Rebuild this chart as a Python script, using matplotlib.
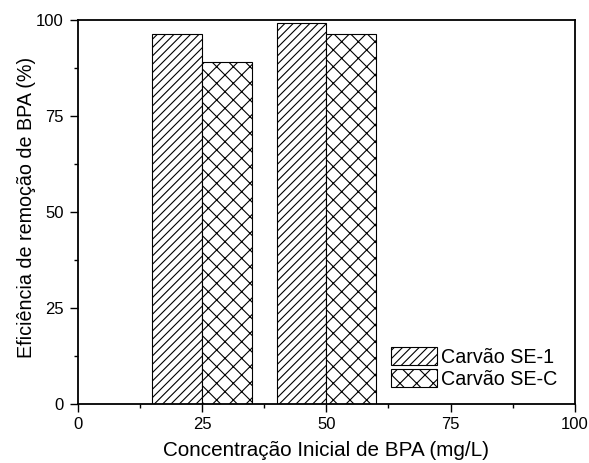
import matplotlib
matplotlib.use("Agg")
import matplotlib.pyplot as plt
from matplotlib.ticker import MultipleLocator

plt.rcParams['font.family'] = ['Liberation Sans', 'DejaVu Sans']
plt.rcParams['hatch.linewidth'] = 0.8

concentrations = [25, 50]
series_names = ["Carvão SE-1", "Carvão SE-C"]
se1_values = [96.4, 99.2]
sec_values = [89.0, 96.3]
bar_width = 10

fig = plt.figure(figsize=(5.89, 4.63), dpi=100)
ax = fig.add_axes([0.132, 0.127, 0.844, 0.830])

ax.bar([c - bar_width / 2 for c in concentrations], se1_values, width=bar_width,
       facecolor='white', edgecolor='black', hatch='////', linewidth=0.8,
       label=series_names[0])
ax.bar([c + bar_width / 2 for c in concentrations], sec_values, width=bar_width,
       facecolor='white', edgecolor='black', hatch='xx', linewidth=0.8,
       label=series_names[1])

ax.set_xlim(0, 100)
ax.set_ylim(0, 100)
ax.xaxis.set_major_locator(MultipleLocator(25))
ax.xaxis.set_minor_locator(MultipleLocator(12.5))
ax.yaxis.set_major_locator(MultipleLocator(25))
ax.yaxis.set_minor_locator(MultipleLocator(12.5))
ax.tick_params(which='both', direction='out', top=False, right=False,
               labelsize=12, width=1.0)
ax.tick_params(which='major', length=5.5)
ax.tick_params(axis='x', which='major', pad=4)
ax.tick_params(axis='y', which='major', pad=4.5)
ax.tick_params(which='minor', length=3)
for s in ax.spines.values():
    s.set_linewidth(1.3)

ax.set_xlabel("Concentração Inicial de BPA (mg/L)", fontsize=14.9, labelpad=6.5)
ax.set_ylabel("Eficiência de remoção de BPA (%)", fontsize=14.2)
ax.yaxis.set_label_coords(-0.083, 0.513)

leg = ax.legend(loc='lower left', frameon=False, fontsize=14.2,
                handlelength=2.33, handleheight=1.07, handletextpad=0.22,
                labelspacing=0.1, borderaxespad=0,
                bbox_to_anchor=(0.614, 0.02))

fig.savefig("out.png", dpi=100)
